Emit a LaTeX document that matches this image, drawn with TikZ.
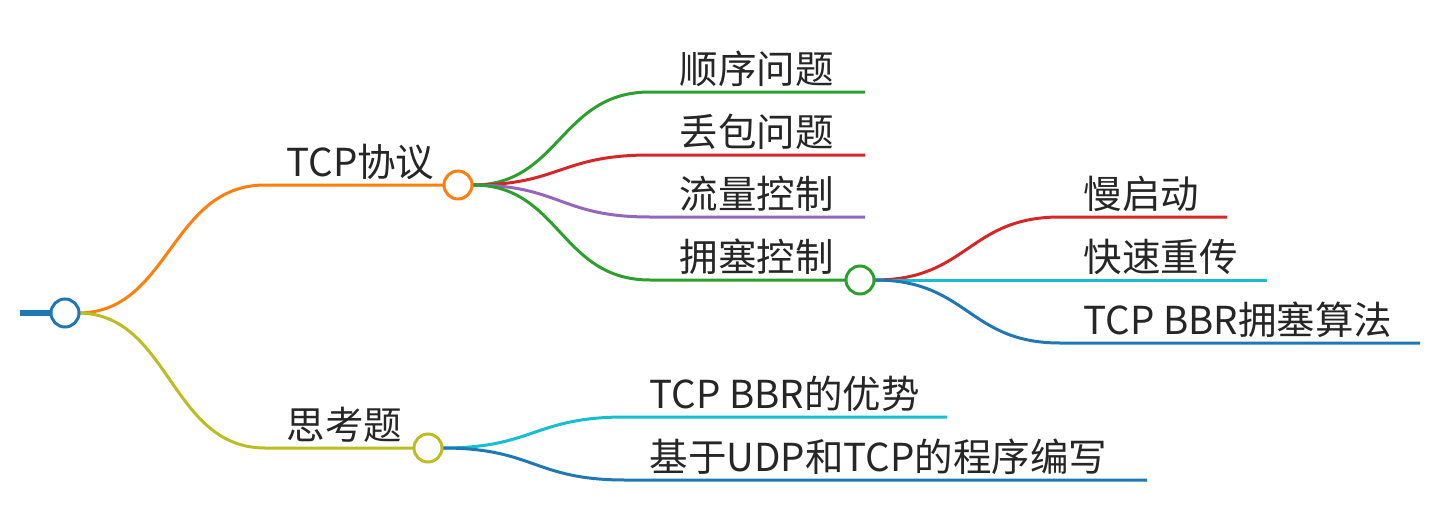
\documentclass[tikz,border=0pt]{standalone}
\usepackage{fontspec}
\setmainfont{Noto Sans CJK SC}
\begin{document}
\begin{tikzpicture}[x=1pt,y=-1pt,line width=3pt,
  lbl/.style={anchor=base west,inner sep=0pt,font=\fontsize{38.5}{42}\selectfont\color{black!85}},
  dot/.style={circle,draw,fill=white,minimum size=28pt,inner sep=0pt,line width=3pt}]
\definecolor{cO}{HTML}{FF7F0E}\definecolor{cG}{HTML}{2CA02C}\definecolor{cR}{HTML}{D62728}
\definecolor{cP}{HTML}{9467BD}\definecolor{cC}{HTML}{17BECF}\definecolor{cB}{HTML}{1F77B4}
\definecolor{cY}{HTML}{BCBD22}
\useasboundingbox (0,0) rectangle (1439,527);
\coordinate (r) at (65,313);
\coordinate (t0) at (265,185); \coordinate (t1) at (443,185);
\coordinate (s0) at (265,448); \coordinate (s1) at (413,448);
\coordinate (tc) at (458,185); \coordinate (sc) at (428,448);
\coordinate (tcr) at (473,185); \coordinate (scr) at (443,448);
\coordinate (a0) at (650,92) ; \coordinate (a1) at (865,92);
\coordinate (b0) at (650,155); \coordinate (b1) at (865,155);
\coordinate (c0) at (650,217); \coordinate (c1) at (865,217);
\coordinate (d0) at (650,280); \coordinate (d1) at (845,280);
\coordinate (dc) at (860,280); \coordinate (dcr) at (875,280);
\coordinate (e0) at (1060,217); \coordinate (e1) at (1227,217);
\coordinate (f0) at (1060,280); \coordinate (f1) at (1267,280);
\coordinate (g0) at (1060,343); \coordinate (g1) at (1420,343);
\coordinate (h0) at (625,417); \coordinate (h1) at (947,417);
\coordinate (i0) at (625,480); \coordinate (i1) at (1147,480);
\coordinate (rr) at (78,313);
\draw[cB,line width=6pt] (20,313) -- (r);
\draw[cO] (rr) .. controls (170,313) and (170,185) .. (t0) -- (t1);
\draw[cY] (rr) .. controls (170,313) and (170,448) .. (s0) -- (s1);
\draw[cG] (tcr) .. controls (560,185) and (560,92) .. (a0) -- (a1);
\draw[cR] (tcr) .. controls (560,185) and (560,155) .. (b0) -- (b1);
\draw[cP] (tcr) .. controls (560,185) and (560,217) .. (c0) -- (c1);
\draw[cG] (tcr) .. controls (560,185) and (560,280) .. (d0) -- (d1);
\draw[cR] (dcr) .. controls (968,280) and (968,217) .. (e0) -- (e1);
\draw[cC] (dcr) -- (f0) -- (f1);
\draw[cB] (dcr) .. controls (968,280) and (968,343) .. (g0) -- (g1);
\draw[cC] (scr) .. controls (534,448) and (534,417) .. (h0) -- (h1);
\draw[cB] (scr) .. controls (534,448) and (534,480) .. (i0) -- (i1);
\node[dot,draw=cB] (R) at (r) {};
\node[dot,draw=cO] (TC) at (tc) {};
\node[dot,draw=cY] (SC) at (sc) {};
\node[dot,draw=cG] (DC) at (dc) {};
\node[lbl] (lt) at (285,176) {TCP协议};
\node[lbl] (ls) at (285,439) {思考题};
\node[lbl] (la) at (678,83) {顺序问题};
\node[lbl] (lb) at (678,146) {丢包问题};
\node[lbl] (lc) at (678,208) {流量控制};
\node[lbl] (ld) at (678,271) {拥塞控制};
\node[lbl] (le) at (1082,208) {慢启动};
\node[lbl] (lf) at (1082,271) {快速重传};
\node[lbl] (lg) at (1082,334) {TCP BBR拥塞算法};
\node[lbl] (lh) at (648,408) {TCP BBR的优势};
\node[lbl] (li) at (648,471) {基于UDP和TCP的程序编写};
\end{tikzpicture}
\end{document}
